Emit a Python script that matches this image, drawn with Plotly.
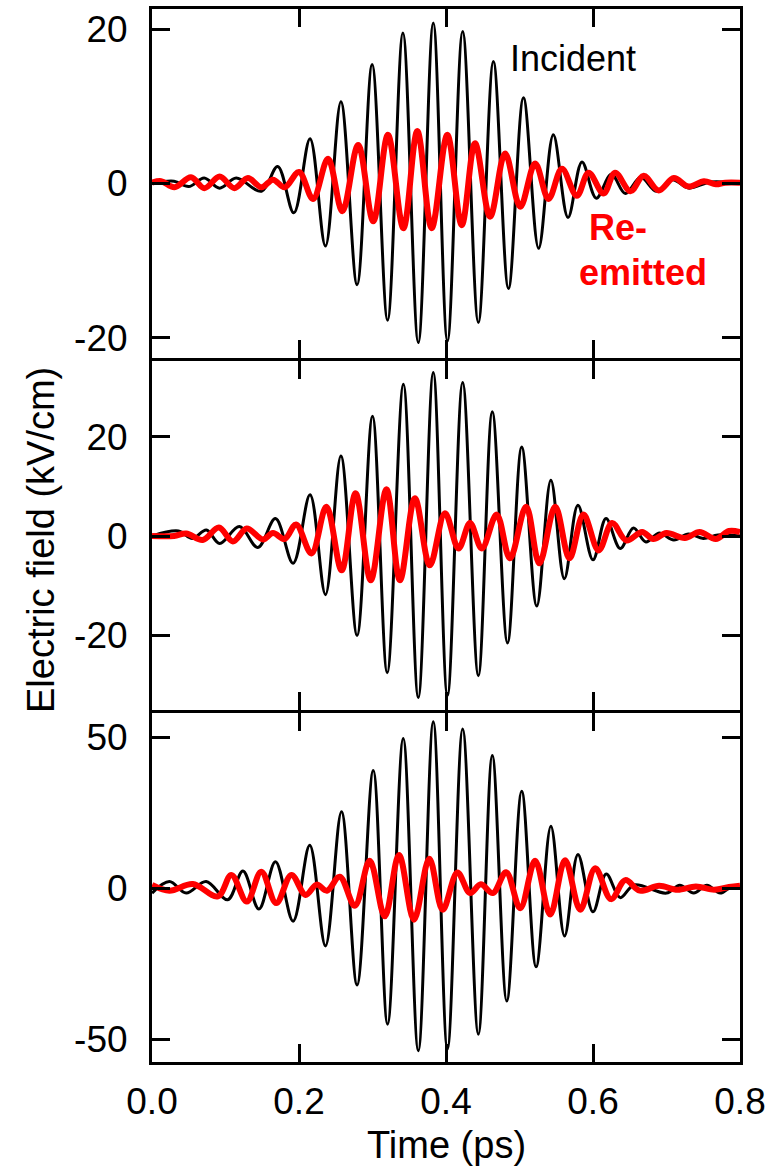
import plotly.graph_objects as go
from plotly.subplots import make_subplots

# ---------------- data (extrema) ----------------
# Panel 1 (top)
t_inc_1 = [0.0, 0.03, 0.05, 0.071, 0.092, 0.1146, 0.149, 0.171, 0.193, 0.215, 0.236, 0.257,
           0.279, 0.2995, 0.3205, 0.3414, 0.3623, 0.3827, 0.402, 0.4227, 0.444, 0.4645, 0.485,
           0.5054, 0.526, 0.546, 0.566, 0.585, 0.6045, 0.625, 0.644, 0.665, 0.686, 0.708, 0.73,
           0.76, 0.8]
e_inc_1 = [0.0, 0.3, -0.4, 0.7, -0.6, 0.7, -1.0, 2.2, -3.8, 5.8, -8.1, 10.6,
           -13.1, 15.4, -17.7, 19.5, -20.6, 20.8, -20.4, 19.7, -18.0, 15.8, -13.6,
           11.1, -8.4, 6.3, -4.4, 2.8, -1.9, 1.2, -1.3, 0.8, -1.0, 0.5, -0.6,
           0.2, 0.0]
t_re_1 = [0.0, 0.0124, 0.0305, 0.053, 0.0714, 0.092, 0.112, 0.1305, 0.149, 0.1646, 0.1805,
          0.2, 0.219, 0.2395, 0.259, 0.2805, 0.301, 0.321, 0.342, 0.361, 0.3805, 0.4018,
          0.4214, 0.4395, 0.46, 0.4804, 0.501, 0.5213, 0.5395, 0.5577, 0.578, 0.594, 0.6144,
          0.630, 0.651, 0.669, 0.6894, 0.71, 0.730, 0.751, 0.767, 0.780, 0.80]
e_re_1 = [0.1, 0.3, -0.5, 0.8, -0.6, 0.9, -0.6, 0.7, -0.5, 0.5, -0.5,
          1.5, -2.0, 3.2, -3.6, 5.0, -4.9, 6.3, -5.8, 6.8, -5.8, 6.3,
          -5.4, 5.2, -4.3, 3.9, -3.0, 2.6, -2.0, 1.9, -1.6, 1.4, -1.3,
          1.4, -1.0, 1.0, -0.9, 0.7, -0.4, 0.3, -0.1, 0.1, 0.1]

# Panel 2 (middle)
t_inc_2 = [0.0, 0.036, 0.055, 0.074, 0.092, 0.119, 0.144, 0.168, 0.192, 0.215, 0.236, 0.257,
           0.279, 0.300, 0.320, 0.342, 0.3623, 0.3827, 0.402, 0.4227, 0.444, 0.463, 0.4837,
           0.503, 0.5235, 0.5427, 0.561, 0.5795, 0.600, 0.6177, 0.637, 0.655, 0.672, 0.69,
           0.71, 0.73, 0.75, 0.77, 0.8]
e_inc_2 = [0.0, 1.0, -0.5, 1.2, -1.5, 1.9, -2.3, 3.5, -5.5, 8.3, -11.8, 16.1,
           -20.0, 24.1, -27.5, 30.5, -32.5, 32.9, -32.1, 30.9, -28.1, 25.0, -21.5,
           17.9, -14.1, 11.2, -8.6, 6.2, -4.8, 3.5, -2.5, 1.6, -1.2, 0.6,
           -0.8, 0.4, -0.5, 0.2, 0.0]
t_re_2 = [0.0, 0.03, 0.0465, 0.069, 0.091, 0.110, 0.129, 0.151, 0.1646, 0.1805, 0.196, 0.217,
          0.2373, 0.258, 0.277, 0.2976, 0.319, 0.3373, 0.3577, 0.378, 0.3986, 0.417, 0.4327,
          0.4487, 0.469, 0.487, 0.509, 0.527, 0.5486, 0.568, 0.587, 0.6077, 0.626, 0.6454,
          0.6668, 0.682, 0.70, 0.725, 0.745, 0.767, 0.785, 0.80]
e_re_2 = [0.0, 0.0, 0.5, -0.8, 1.7, -1.1, 1.5, -0.7, 0.6, -0.6, 2.3, -3.5,
          5.9, -6.9, 8.6, -8.9, 9.4, -8.9, 7.6, -5.9, 4.6, -2.5, 2.6,
          -2.5, 4.3, -4.5, 5.9, -5.5, 5.9, -4.5, 4.3, -2.9, 2.6, -0.9,
          0.8, -0.6, 0.6, -0.4, 0.8, -0.6, 1.0, 0.8]

# Panel 3 (bottom)
t_inc_3 = [0.0, 0.0237, 0.0465, 0.0737, 0.103, 0.1237, 0.1455, 0.168, 0.192, 0.2146, 0.236,
           0.2578, 0.279, 0.301, 0.3205, 0.3418, 0.3623, 0.3827, 0.402, 0.4227, 0.444, 0.463,
           0.4827, 0.503, 0.5226, 0.5427, 0.5613, 0.5795, 0.600, 0.618, 0.637, 0.656, 0.70,
           0.718, 0.737, 0.755, 0.773, 0.79, 0.80]
e_inc_3 = [-1.6, 2.2, -1.6, 2.2, -3.8, 5.7, -6.9, 8.8, -10.9, 14.2, -19.1,
           25.3, -32.0, 39.0, -45.0, 49.6, -53.8, 55.1, -53.2, 52.7, -48.3, 43.9,
           -37.3, 32.1, -26.0, 20.5, -15.8, 11.2, -7.8, 4.7, -3.1, 1.1, -1.6,
           1.0, -1.6, 1.0, -1.6, 0.8, 0.5]
t_re_3 = [0.0, 0.0237, 0.0555, 0.0896, 0.108, 0.129, 0.1487, 0.169, 0.1896, 0.209, 0.224,
          0.238, 0.2555, 0.276, 0.2962, 0.3167, 0.336, 0.3564, 0.3773, 0.3955, 0.4155, 0.4327,
          0.4473, 0.4637, 0.4818, 0.501, 0.5213, 0.5418, 0.562, 0.5827, 0.603, 0.6245, 0.644,
          0.6635, 0.69, 0.715, 0.74, 0.765, 0.785, 0.80]
e_re_3 = [1.1, -0.8, 1.4, -2.7, 4.4, -4.4, 5.5, -4.9, 4.4, -2.2, 1.2,
          -0.8, 3.8, -5.8, 9.1, -9.3, 11.0, -10.4, 9.8, -7.1, 5.2, -1.6,
          1.3, -1.6, 5.3, -6.6, 9.1, -8.7, 9.3, -7.1, 6.6, -3.6, 2.7,
          -0.8, 0.8, -0.5, 0.6, -0.5, 0.4, 0.8]

x_tickvals = [0.0, 0.2, 0.4, 0.6, 0.8]
x_ticktext = ["0.0", "0.2", "0.4", "0.6", "0.8"]
y_ticks = [([-20, 0, 20], ["-20", "0", "20"]),
           ([-20, 0, 20], ["-20", "0", "20"]),
           ([-50, 0, 50], ["-50", "0", "50"])]
y_ranges = [[-22.6, 22.6], [-35.0, 35.2], [-57.5, 58.0]]

panels = [(t_inc_1, e_inc_1, t_re_1, e_re_1),
          (t_inc_2, e_inc_2, t_re_2, e_re_2),
          (t_inc_3, e_inc_3, t_re_3, e_re_3)]

FONT = "Liberation Sans, Arial, sans-serif"

fig = make_subplots(rows=3, cols=1, shared_xaxes=True, vertical_spacing=0.00285)

for i, (ti, ei, tr, er) in enumerate(panels, start=1):
    fig.add_trace(go.Scatter(x=ti, y=ei, mode="lines",
                             line=dict(color="black", width=3, shape="spline", smoothing=1.0),
                             showlegend=False, hoverinfo="skip"), row=i, col=1)
    fig.add_trace(go.Scatter(x=tr, y=er, mode="lines",
                             line=dict(color="#ff0000", width=6, shape="spline", smoothing=1.0),
                             showlegend=False, hoverinfo="skip"), row=i, col=1)
    tv, tt = y_ticks[i - 1]
    fig.update_yaxes(row=i, col=1, range=y_ranges[i - 1], tickvals=tv, ticktext=tt,
                     ticks="inside", ticklen=18, tickwidth=3, tickcolor="black",
                     showline=True, linewidth=3, linecolor="black", mirror="allticks",
                     showgrid=False, zeroline=False, ticklabelstandoff=14, automargin=False,
                     tickfont=dict(family=FONT, size=37, color="black"))
    fig.update_xaxes(row=i, col=1, range=[0, 0.8], tickvals=x_tickvals, ticktext=x_ticktext,
                     ticks="inside", ticklen=18, tickwidth=3, tickcolor="black",
                     showline=True, linewidth=3, linecolor="black", mirror="allticks",
                     showgrid=False, zeroline=False, showticklabels=(i == 3), automargin=False,
                     tickfont=dict(family=FONT, size=37, color="black"))

fig.update_xaxes(row=3, col=1, ticklabelstandoff=5)

annotations = [
    dict(text="Incident", x=0.573, y=16.2, xref="x", yref="y", showarrow=False,
         font=dict(family=FONT, size=36, color="black")),
    dict(text="<b>Re-</b>", x=0.634, y=-5.75, xref="x", yref="y", showarrow=False,
         font=dict(family=FONT, size=36, color="#ff0000")),
    dict(text="<b>emitted</b>", x=0.668, y=-11.5, xref="x", yref="y", showarrow=False,
         font=dict(family=FONT, size=36, color="#ff0000")),
    dict(text="Time (ps)", x=0.5, y=-0.079, xref="paper", yref="paper", showarrow=False,
         xanchor="center", yanchor="middle",
         font=dict(family=FONT, size=38, color="black")),
    dict(text="Electric field (kV/cm)", x=-0.19, y=0.496, xref="paper", yref="paper",
         showarrow=False, textangle=-90, xanchor="center", yanchor="middle",
         font=dict(family=FONT, size=38, color="black")),
]

fig.update_layout(width=769, height=1168, margin=dict(l=152, r=29, t=9, b=106, autoexpand=False),
                  paper_bgcolor="white", plot_bgcolor="white",
                  annotations=annotations, showlegend=False)

fig.write_html("out.html", config={"displayModeBar": False},
               post_script="document.body.style.margin='0px';document.body.style.padding='0px';"
                           "document.body.style.overflow='hidden';")
